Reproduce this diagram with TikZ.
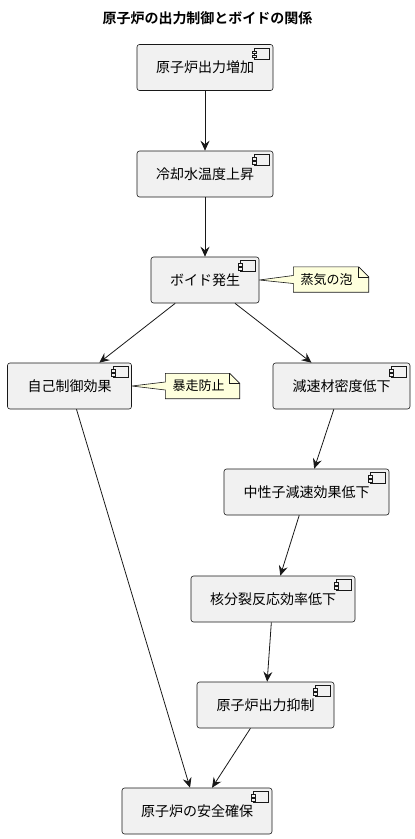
\documentclass[tikz,border=0pt]{standalone}
\usepackage{fontspec}
\setmainfont{Noto Sans CJK JP}[BoldFont={Noto Sans CJK JP Bold}]
\usetikzlibrary{arrows.meta,backgrounds}
\definecolor{boxfill}{HTML}{F1F1F1}
\definecolor{notefill}{HTML}{FEFFDD}
\definecolor{edge}{HTML}{181818}
\tikzset{
  comp/.style={draw=edge, fill=boxfill, line width=0.6pt, rounded corners=2.5pt,
    minimum height=46pt, inner sep=0pt, font=\fontsize{14}{16}\selectfont, text=black},
  notetext/.style={inner sep=0pt, minimum height=25pt, font=\fontsize{13}{15}\selectfont, text=black},
  noteshape/.style={draw=edge, fill=notefill, line width=0.6pt, line join=miter},
  flow/.style={draw=edge, line width=0.8pt, -{Stealth[length=10pt,width=9pt,inset=3.5pt]}},
  iconline/.style={draw=edge, line width=0.45pt, fill=boxfill}
}
\newcommand\cicon[1]{%
  \draw[iconline] ([xshift=-19pt,yshift=-4pt]#1.north east) rectangle ([xshift=-4pt,yshift=-15pt]#1.north east);
  \draw[iconline] ([xshift=-21pt,yshift=-7pt]#1.north east) rectangle ([xshift=-17pt,yshift=-9.5pt]#1.north east);
  \draw[iconline] ([xshift=-21pt,yshift=-11pt]#1.north east) rectangle ([xshift=-17pt,yshift=-13.5pt]#1.north east);
}
\newcommand\notedraw[2]{% note name, target coordinate
  \begin{pgfonlayer}{background}
  \draw[noteshape] (#1.south west) -- ([yshift=-4pt]#1.west) -- (#2) -- ([yshift=4pt]#1.west)
    -- (#1.north west) -- ([xshift=-10pt]#1.north east) -- ([yshift=-10pt]#1.north east)
    -- (#1.south east) -- cycle;
  \draw[draw=edge, line width=0.6pt] ([xshift=-10pt]#1.north east) -- ([xshift=-10pt,yshift=-10pt]#1.north east)
    -- ([yshift=-10pt]#1.north east);
  \end{pgfonlayer}
}
\begin{document}
\begin{tikzpicture}[x=1pt,y=-1pt]
\useasboundingbox (0,0) rectangle (415,839);
\node[font=\bfseries\fontsize{14}{16}\selectfont] (title) at (207.5,18) {原子炉の出力制御とボイドの関係};

\node[comp, minimum width=136pt] (b1) at (205,67.5) {\raisebox{-4pt}{原子炉出力増加}};
\node[comp, minimum width=136pt] (b2) at (205,174) {\raisebox{-4pt}{冷却水温度上昇}};
\node[comp, minimum width=108pt] (b3) at (205,280) {\raisebox{-4pt}{ボイド発生}};
\node[comp, minimum width=124pt] (b4) at (69.5,386) {\raisebox{-4pt}{自己制御効果}};
\node[comp, minimum width=137pt] (b5) at (341.5,386) {\raisebox{-4pt}{減速材密度低下}};
\node[comp, minimum width=165pt] (b6) at (306.5,492) {\raisebox{-4pt}{中性子減速効果低下}};
\node[comp, minimum width=164pt] (b7) at (273,599) {\raisebox{-4pt}{核分裂反応効率低下}};
\node[comp, minimum width=137pt] (b8) at (265.5,705) {\raisebox{-4pt}{原子炉出力抑制}};
\node[comp, minimum width=150pt] (b9) at (197,811) {\raisebox{-4pt}{原子炉の安全確保}};

\foreach \n in {b1,b2,b3,b4,b5,b6,b7,b8,b9} {\cicon{\n}}

\node[notetext] (n1) at (331,279.5) {\hspace*{7pt}蒸気の泡\hspace*{16pt}};
\node[notetext] (n2) at (202.5,386) {\hspace*{7pt}暴走防止\hspace*{15pt}};
\notedraw{n1}{b3.east}
\notedraw{n2}{b4.east}

\draw[flow] (b1) -- (b2);
\draw[flow] (b2) -- (b3);
\draw[flow] (b3) -- (b4);
\draw[flow] (b3) -- (b5);
\draw[flow] (b4) -- (b9);
\draw[flow] (b5) -- (b6);
\draw[flow] (b6) -- (b7);
\draw[flow] (b7) -- (b8);
\draw[flow] (b8) -- (b9);
\end{tikzpicture}
\end{document}
